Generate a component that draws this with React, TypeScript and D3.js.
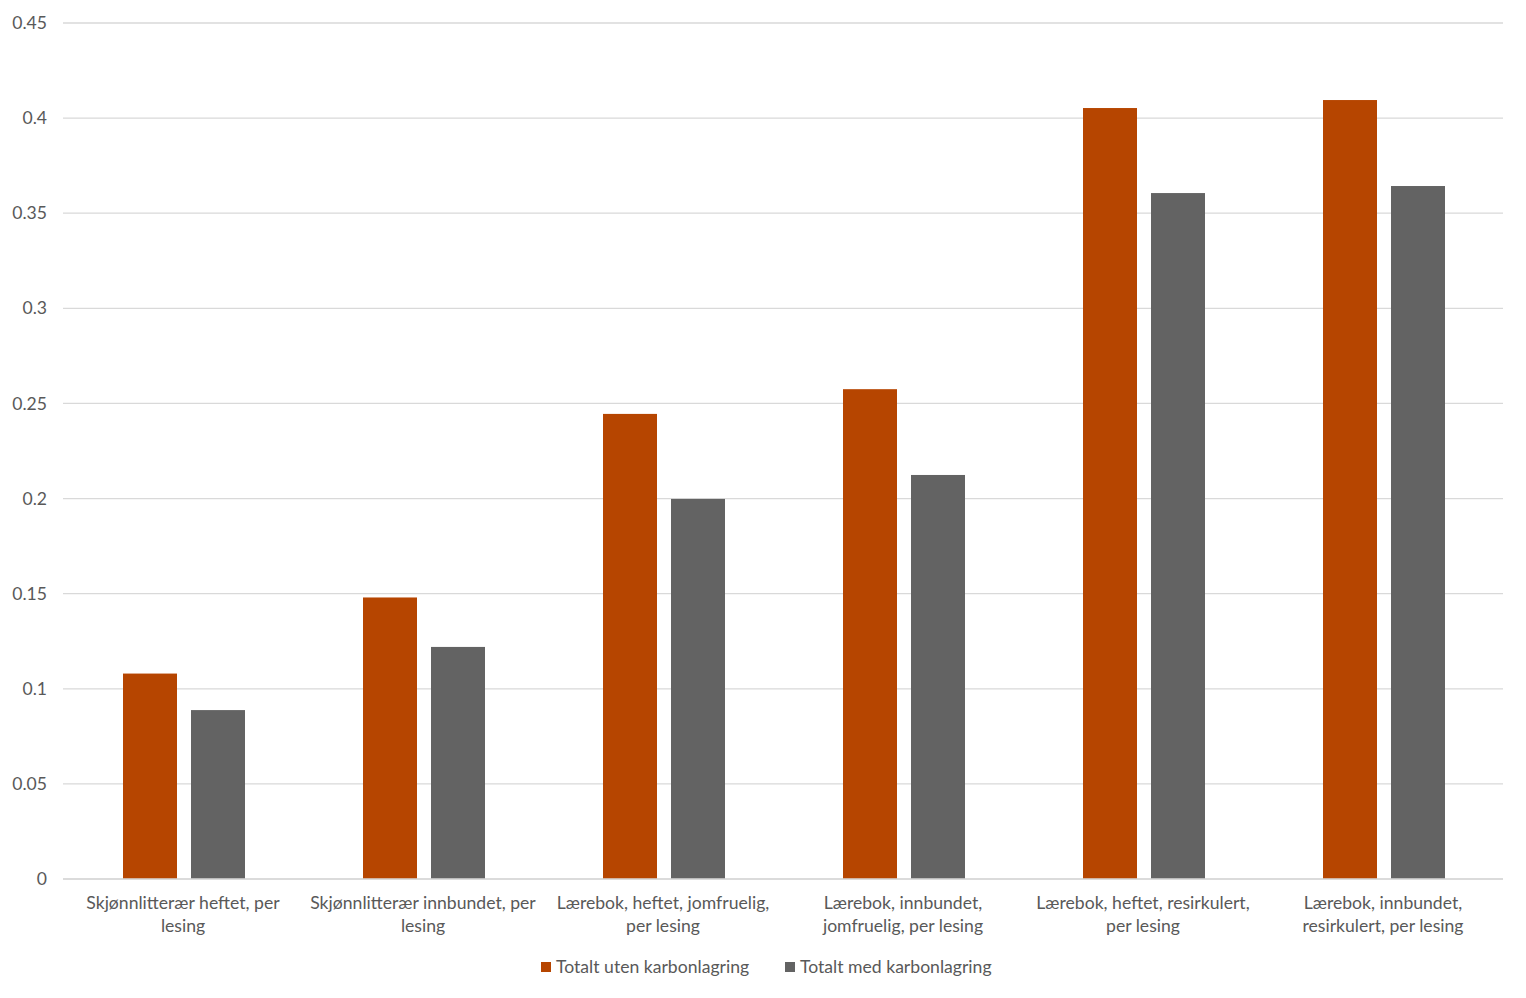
import React from 'react';
import * as d3 from 'd3';

const categories = [
  ['Skjønnlitterær heftet, per', 'lesing'],
  ['Skjønnlitterær innbundet, per', 'lesing'],
  ['Lærebok, heftet, jomfruelig,', 'per lesing'],
  ['Lærebok, innbundet,', 'jomfruelig, per lesing'],
  ['Lærebok, heftet, resirkulert,', 'per lesing'],
  ['Lærebok, innbundet,', 'resirkulert, per lesing'],
];

const utenKarbon = [0.108, 0.148, 0.2445, 0.2575, 0.4053, 0.4095];
const medKarbon = [0.0888, 0.122, 0.1998, 0.2124, 0.3606, 0.3643];

const seriesNames = ['Totalt uten karbonlagring', 'Totalt med karbonlagring'];
const seriesColors = ['#B64500', '#636363'];
const yTicks = [0, 0.05, 0.1, 0.15, 0.2, 0.25, 0.3, 0.35, 0.4, 0.45];

const W = 1526;
const H = 998;
const FONT = 'Lato, "Open Sans", sans-serif';
const FS = 17.6;

const App: React.FC = () => {
  const margin = { top: 23, right: 23, bottom: 119, left: 63 };
  const yScale = d3.scaleLinear().domain([0, 0.45]).range([H - margin.bottom, margin.top]);
  const keys = categories.map((c) => c.join(' '));
  const xScale = d3.scaleBand().domain(keys).range([margin.left, W - margin.right]).padding(0);
  const inner = d3.scaleBand<number>().domain([0, 1]).range([60, 182]).paddingInner(14 / 68);
  const series = [utenKarbon, medKarbon];
  const y0 = yScale(0);

  return (
    <svg width={W} height={H} style={{ position: 'absolute', left: 0, top: 0, background: '#fff' }} fontFamily={FONT}>
      {/* gridlines */}
      {yTicks.map((t) => (
        <g key={t}>
          <line x1={margin.left} x2={W - margin.right} y1={yScale(t)} y2={yScale(t)} stroke="#D9D9D9" strokeWidth={1.3} />
          <text x={47} y={yScale(t)} dy="0.35em" textAnchor="end" fontSize={FS} fill="#595959">
            {t}
          </text>
        </g>
      ))}

      {/* bars */}
      {series.map((vals, si) =>
        vals.map((v, ci) => {
          const x = (xScale(keys[ci]) ?? 0) + (inner(si) ?? 0);
          return (
            <rect key={`${si}-${ci}`} x={x} y={yScale(v)} width={inner.bandwidth()} height={y0 - yScale(v)} fill={seriesColors[si]} />
          );
        })
      )}

      <line x1={margin.left} x2={W - margin.right} y1={y0} y2={y0} stroke="#D9D9D9" strokeWidth={1.3} />

      {/* category labels */}
      {categories.map((lines, ci) => {
        const cx = (xScale(keys[ci]) ?? 0) + xScale.bandwidth() / 2;
        return (
          <text key={ci} textAnchor="middle" fontSize={FS} fill="#595959">
            {lines.map((l, li) => (
              <tspan key={li} x={cx} y={y0 + 30 + li * 23}>
                {l}
              </tspan>
            ))}
          </text>
        );
      })}

      {/* legend */}
      {seriesNames.map((name, si) => {
        const lx = si === 0 ? 541 : 785;
        return (
          <g key={name}>
            <rect x={lx} y={962} width={10} height={10} fill={seriesColors[si]} />
            <text x={lx + 15} y={967} dy="0.35em" fontSize={FS} fill="#595959">
              {name}
            </text>
          </g>
        );
      })}
    </svg>
  );
};

export default App;
